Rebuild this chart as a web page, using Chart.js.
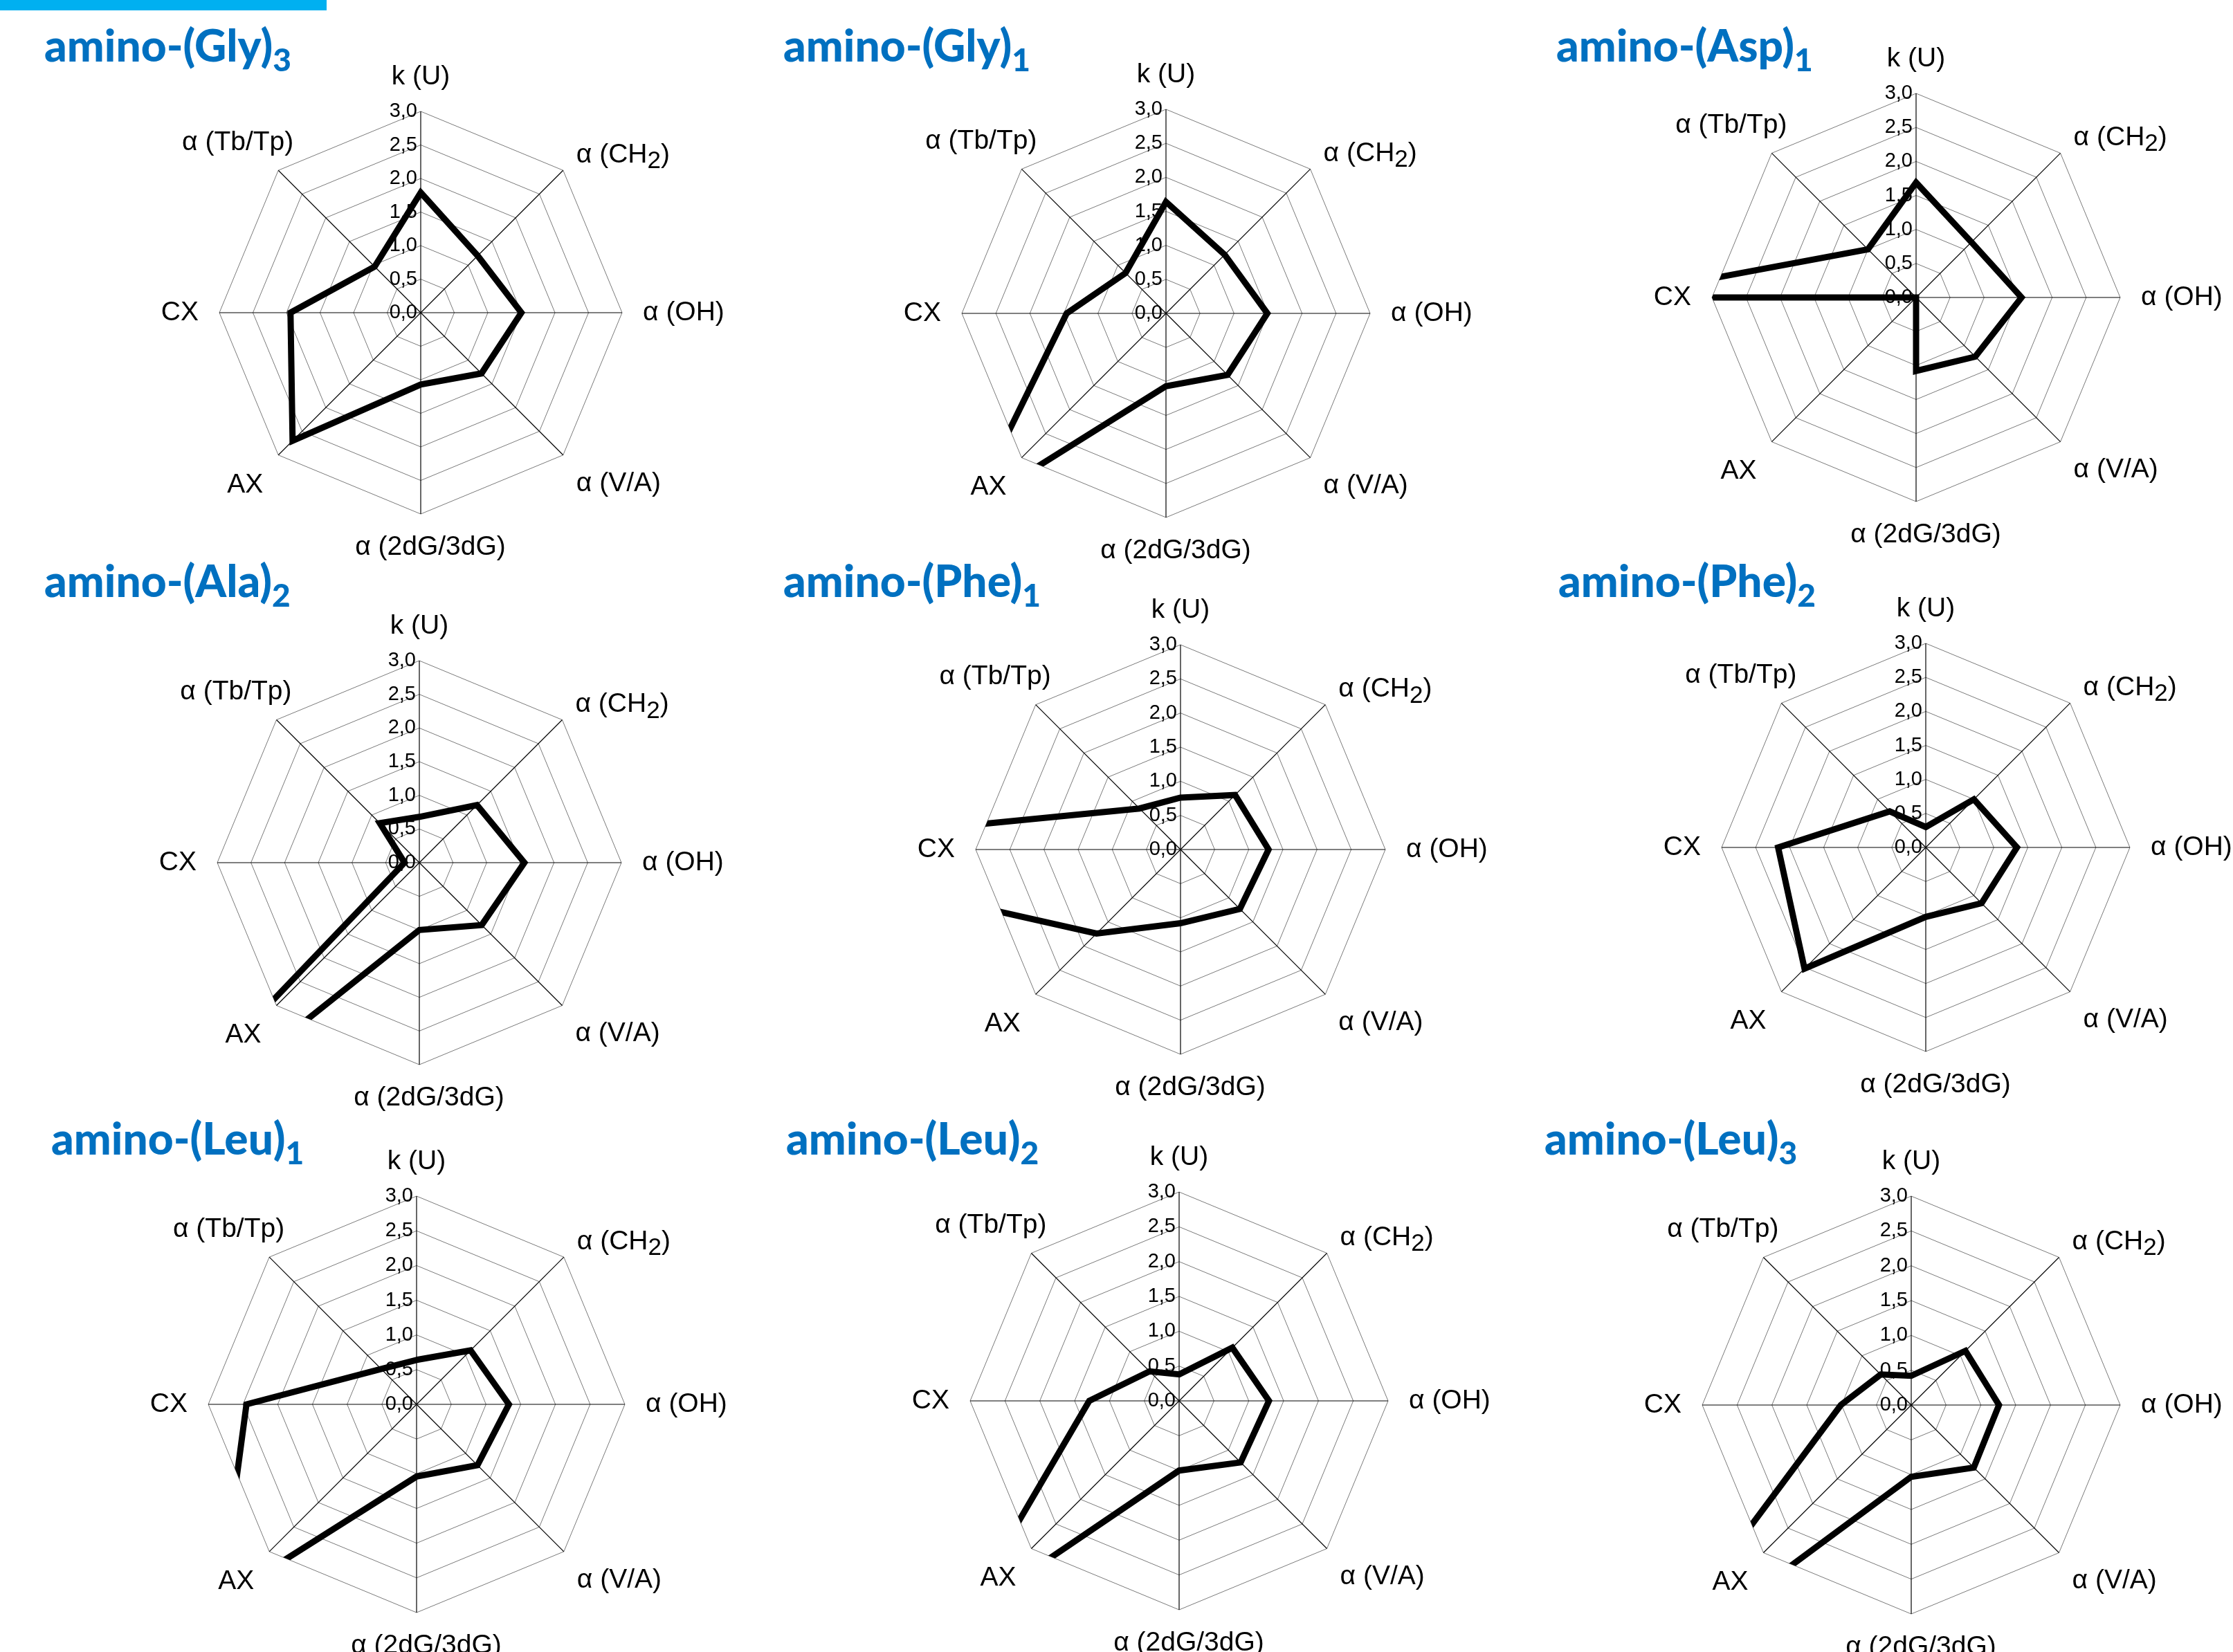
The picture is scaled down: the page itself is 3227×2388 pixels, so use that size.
<!DOCTYPE html>
<html><head><meta charset="utf-8">
<script src="https://cdn.jsdelivr.net/npm/chart.js@4.4.1/dist/chart.umd.min.js"></script>
<style>
html,body{margin:0;padding:0;background:#fff;width:3227px;height:2388px;overflow:hidden;position:relative}
canvas{position:absolute}
.title{position:absolute;font-family:Lato,'Noto Sans',sans-serif;font-weight:900;font-size:64px;color:#0070C0;line-height:1;white-space:nowrap;z-index:5}
.title sub{font-size:0.72em;vertical-align:-0.3em;line-height:0}
#bar{position:absolute;left:0;top:0;width:472px;height:15px;background:#00B0F0}
</style></head><body>
<div id="bar"></div>
<script>
// ---- data ----
const axisLabels = ['k (U)', 'α (CH₂)', 'α (OH)', 'α (V/A)', 'α (2dG/3dG)', 'AX', 'CX', 'α (Tb/Tp)'];
const scaleMin = 0, scaleMax = 3, scaleStep = 0.5;
const compoundNames = ['Gly', 'Gly', 'Asp', 'Ala', 'Phe', 'Phe', 'Leu', 'Leu', 'Leu'];
const compoundCounts = ['3', '1', '1', '2', '1', '2', '1', '2', '3'];
const gly3 = [1.79, 1.20, 1.50, 1.28, 1.07, 2.70, 1.94, 0.97];
const gly1 = [1.64, 1.22, 1.49, 1.28, 1.07, 4.05, 1.46, 0.84];
const asp1 = [1.69, 1.15, 1.55, 1.23, 1.08, 0.00, 4.50, 1.00];
const ala2 = [0.68, 1.21, 1.56, 1.31, 1.00, 7.00, 0.22, 0.83];
const phe1 = [0.76, 1.13, 1.29, 1.23, 1.08, 1.74, 6.70, 0.85];
const phe2 = [0.30, 1.00, 1.34, 1.16, 1.02, 2.52, 2.17, 0.75];
const leu1 = [0.64, 1.10, 1.33, 1.24, 1.04, 4.00, 2.45, 0.72];
const leu2 = [0.38, 1.08, 1.29, 1.25, 1.00, 4.40, 1.29, 0.60];
const leu3 = [0.42, 1.10, 1.26, 1.27, 1.03, 5.60, 1.01, 0.62];
const seriesList = [gly3, gly1, asp1, ala2, phe1, phe2, leu1, leu2, leu3];

// ---- layout (page pixels) ----
const centerX = [608, 1685, 2769, 606, 1706, 2783, 602, 1704, 2762];
const centerY = [452, 453, 430, 1247, 1228, 1225, 2030, 2025, 2031];
const radius  = [291, 295, 295, 292, 296, 295, 301, 302, 302];
const titleX  = [64, 1132, 2249, 64, 1132, 2252, 74, 1136, 2232];
const titleBase = [90, 90, 90, 864, 864, 864, 1670, 1670, 1670];
// label offsets from the outer vertex of each spoke: [dx, dy, align]
const labelOffsets = [[0,-50,'center'],[19,-22,'left'],[30,0,'left'],[19,41,'left'],[14,48,'center'],[-22,43,'right'],[-30,0,'right'],[22,-40,'right']];

const FONT = '"Liberation Sans", Arial, sans-serif';
const subMap = {'₀':'0','₁':'1','₂':'2','₃':'3','₄':'4','₅':'5','₆':'6','₇':'7','₈':'8','₉':'9'};

function drawLabel(ctx, text, x, y, align, size) {
  const mainF = size + 'px ' + FONT;
  const subF = Math.round(size * 0.9) + 'px ' + FONT;
  const segs = [];
  let buf = '';
  for (const ch of text) {
    if (subMap[ch]) { if (buf) segs.push({t: buf, sub: false}); buf = ''; segs.push({t: subMap[ch], sub: true}); }
    else buf += ch;
  }
  if (buf) segs.push({t: buf, sub: false});
  let w = 0;
  segs.forEach(s => { ctx.font = s.sub ? subF : mainF; s.w = ctx.measureText(s.t).width; w += s.w; });
  let x0 = align === 'left' ? x : (align === 'right' ? x - w : x - w / 2);
  ctx.textAlign = 'left';
  ctx.textBaseline = 'middle';
  segs.forEach(s => { ctx.font = s.sub ? subF : mainF; ctx.fillText(s.t, x0, y + (s.sub ? size * 0.24 : 0)); x0 += s.w; });
}

const decor = {
  id: 'decor',
  beforeDatasetsDraw(chart) {
    const s = chart.scales.r;
    const ctx = chart.ctx;
    ctx.save();
    ctx.fillStyle = '#000';
    ctx.font = '29px ' + FONT;
    ctx.textAlign = 'right';
    ctx.textBaseline = 'middle';
    s.ticks.forEach(t => {
      const d = s.getDistanceFromCenterForValue(t.value);
      ctx.fillText(t.value.toFixed(1).replace('.', ','), s.xCenter - 5, s.yCenter - d);
    });
    const labels = chart.data.labels;
    labels.forEach((lab, i) => {
      const p = s.getPointPosition(i, s.drawingArea);
      const o = labelOffsets[i];
      drawLabel(ctx, lab, p.x + o[0], p.y + o[1], o[2], 39);
    });
    ctx.restore();
    // clip the data line to the octagon (values above the maximum are cut at the frame)
    ctx.save();
    ctx.beginPath();
    for (let i = 0; i < labels.length; i++) {
      const p = s.getPointPosition(i, s.drawingArea);
      if (i === 0) ctx.moveTo(p.x, p.y); else ctx.lineTo(p.x, p.y);
    }
    ctx.closePath();
    ctx.clip();
  },
  afterDatasetsDraw(chart) { chart.ctx.restore(); }
};

const CW = 1240, CH = 1000;
seriesList.forEach((vals, i) => {
  const R = radius[i];
  const cv = document.createElement('canvas');
  cv.width = CW; cv.height = CH;
  cv.style.width = CW + 'px'; cv.style.height = CH + 'px';
  cv.style.left = (centerX[i] - CW / 2) + 'px';
  cv.style.top = (centerY[i] - CH / 2) + 'px';
  document.body.appendChild(cv);
  new Chart(cv, {
    type: 'radar',
    data: {
      labels: axisLabels,
      datasets: [{
        data: vals,
        borderColor: '#000',
        borderWidth: 9,
        borderJoinStyle: 'miter',
        backgroundColor: 'rgba(0,0,0,0)',
        fill: false,
        pointRadius: 0,
        pointHoverRadius: 0,
        tension: 0
      }]
    },
    options: {
      responsive: false,
      animation: false,
      devicePixelRatio: 1,
      layout: {padding: {left: CW / 2 - R, right: CW / 2 - R, top: CH / 2 - R, bottom: CH / 2 - R}},
      plugins: {legend: {display: false}, tooltip: {enabled: false}, title: {display: false}},
      scales: {
        r: {
          min: scaleMin, max: scaleMax,
          ticks: {display: false, stepSize: scaleStep},
          grid: {color: '#7a7a7a', lineWidth: 1},
          angleLines: {color: '#000', lineWidth: 1.2},
          pointLabels: {display: false}
        }
      }
    },
    plugins: [decor]
  });

  const t = document.createElement('div');
  t.className = 'title';
  t.style.left = titleX[i] + 'px';
  t.style.top = (titleBase[i] - 57) + 'px';
  t.innerHTML = 'amino-(' + compoundNames[i] + ')<sub>' + compoundCounts[i] + '</sub>';
  document.body.appendChild(t);
});
</script>
</body></html>
